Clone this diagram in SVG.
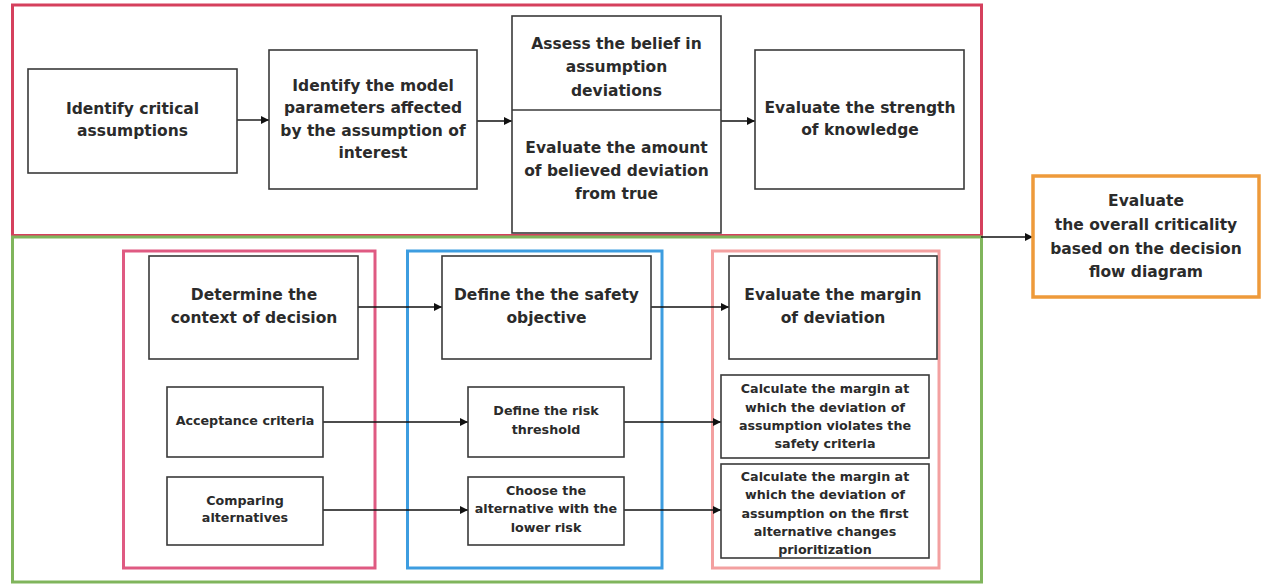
<svg xmlns="http://www.w3.org/2000/svg" width="1265" height="585" viewBox="0 0 1265 585">
<defs>
<marker id="ah" viewBox="0 0 10 10" refX="10" refY="5" markerWidth="11" markerHeight="8" markerUnits="userSpaceOnUse" orient="auto">
<path d="M0,0 L10,5 L0,10 Z" fill="#111"/>
</marker>
</defs>
<style>
.node{fill:#fff;stroke:#3a3a3a;stroke-width:1.6}
.t{font-family:"DejaVu Sans",sans-serif;font-weight:bold;fill:#2b2b2b;text-anchor:middle}
.big{font-size:15.5px}
.sm{font-size:12.7px}
.grp{fill:none;stroke-width:3}
.con{fill:none;stroke:#111;stroke-width:1.4;marker-end:url(#ah)}
</style>
<rect width="1265" height="585" fill="#fff"/>
<g id="groups">
<rect id="grp-top" class="grp" x="12.5" y="5" width="969" height="230.5" stroke="#d5405d"/>
<rect id="grp-bottom" class="grp" x="12.5" y="237" width="969" height="345" stroke="#80b55c"/>
<rect id="grp-context" class="grp" x="123.5" y="251" width="251.5" height="317" stroke="#df5a82"/>
<rect id="grp-objective" class="grp" x="407.5" y="251" width="254.5" height="317" stroke="#3d9de0"/>
<rect id="grp-margin" class="grp" x="712.5" y="251" width="226.5" height="317" stroke="#f3a0a0"/>
</g>
<g id="connectors">
<line class="con" x1="237" y1="120" x2="269" y2="120"/>
<line class="con" x1="477" y1="121" x2="512" y2="121"/>
<line class="con" x1="721" y1="121" x2="755" y2="121"/>
<line class="con" x1="981" y1="237" x2="1033" y2="237"/>
<line class="con" x1="358" y1="307" x2="442" y2="307"/>
<line class="con" x1="651" y1="307" x2="729" y2="307"/>
<line class="con" x1="323" y1="422" x2="468" y2="422"/>
<line class="con" x1="624" y1="422" x2="721" y2="422"/>
<line class="con" x1="323" y1="510" x2="468" y2="510"/>
<line class="con" x1="624" y1="510" x2="721" y2="510"/>
</g>
<g id="n-critical">
<rect class="node" x="28" y="69" width="209" height="104"/>
<text class="t big" x="132.5" y="114">Identify critical</text>
<text class="t big" x="132.5" y="135.5">assumptions</text>
</g>
<g id="n-params">
<rect class="node" x="269" y="50" width="208" height="139"/>
<text class="t big" x="373" y="90.5">Identify the model</text>
<text class="t big" x="373" y="113">parameters affected</text>
<text class="t big" x="373" y="135.5">by the assumption of</text>
<text class="t big" x="373" y="158">interest</text>
</g>
<g id="n-belief">
<rect class="node" x="512" y="16" width="209" height="217"/>
<line x1="512" y1="110" x2="721" y2="110" stroke="#3a3a3a" stroke-width="1.6"/>
<text class="t big" x="616.5" y="48.5">Assess the belief in</text>
<text class="t big" x="616.5" y="72">assumption</text>
<text class="t big" x="616.5" y="95.5">deviations</text>
<text class="t big" x="616.5" y="152.5">Evaluate the amount</text>
<text class="t big" x="616.5" y="175.5">of believed deviation</text>
<text class="t big" x="616.5" y="198.5">from true</text>
</g>
<g id="n-strength">
<rect class="node" x="755" y="50" width="209" height="139"/>
<text class="t big" x="860" y="112.5">Evaluate the strength</text>
<text class="t big" x="860" y="134.5">of knowledge</text>
</g>
<g id="n-overall">
<rect x="1033" y="176" width="226" height="121" fill="#fff" stroke="#ee9a3a" stroke-width="3.5"/>
<text class="t big" x="1146" y="205.5">Evaluate</text>
<text class="t big" x="1146" y="229.5">the overall criticality</text>
<text class="t big" x="1146" y="253.5">based on the decision</text>
<text class="t big" x="1146" y="276.5">flow diagram</text>
</g>
<g id="n-context">
<rect class="node" x="149" y="256" width="209" height="103"/>
<text class="t big" x="254" y="299.5">Determine the</text>
<text class="t big" x="254" y="322.5">context of decision</text>
</g>
<g id="n-acceptance">
<rect class="node" x="167" y="387" width="156" height="70"/>
<text class="t sm" x="245" y="424.5">Acceptance criteria</text>
</g>
<g id="n-comparing">
<rect class="node" x="167" y="477" width="156" height="68"/>
<text class="t sm" x="245" y="504.5">Comparing</text>
<text class="t sm" x="245" y="521.5">alternatives</text>
</g>
<g id="n-safety">
<rect class="node" x="442" y="256" width="209" height="103"/>
<text class="t big" x="546.5" y="299.5">Define the the safety</text>
<text class="t big" x="546.5" y="322.5">objective</text>
</g>
<g id="n-threshold">
<rect class="node" x="468" y="387" width="156" height="70"/>
<text class="t sm" x="546" y="414.5">Define the risk</text>
<text class="t sm" x="546" y="433.5">threshold</text>
</g>
<g id="n-choose">
<rect class="node" x="468" y="477" width="156" height="68"/>
<text class="t sm" x="546" y="494.5">Choose the</text>
<text class="t sm" x="546" y="512.5">alternative with the</text>
<text class="t sm" x="546" y="531.5">lower risk</text>
</g>
<g id="n-margin">
<rect class="node" x="729" y="256" width="208" height="103"/>
<text class="t big" x="833" y="299.5">Evaluate the margin</text>
<text class="t big" x="833" y="322.5">of deviation</text>
</g>
<g id="n-calc1">
<rect class="node" x="721" y="375" width="208" height="83"/>
<text class="t sm" x="825" y="392.5">Calculate the margin at</text>
<text class="t sm" x="825" y="411.5">which the deviation of</text>
<text class="t sm" x="825" y="429.5">assumption violates the</text>
<text class="t sm" x="825" y="447.5">safety criteria</text>
</g>
<g id="n-calc2">
<rect class="node" x="721" y="464" width="208" height="94"/>
<text class="t sm" x="825" y="480.5">Calculate the margin at</text>
<text class="t sm" x="825" y="498.5">which the deviation of</text>
<text class="t sm" x="825" y="517.5">assumption on the first</text>
<text class="t sm" x="825" y="535.5">alternative changes</text>
<text class="t sm" x="825" y="553.5">prioritization</text>
</g>
</svg>
